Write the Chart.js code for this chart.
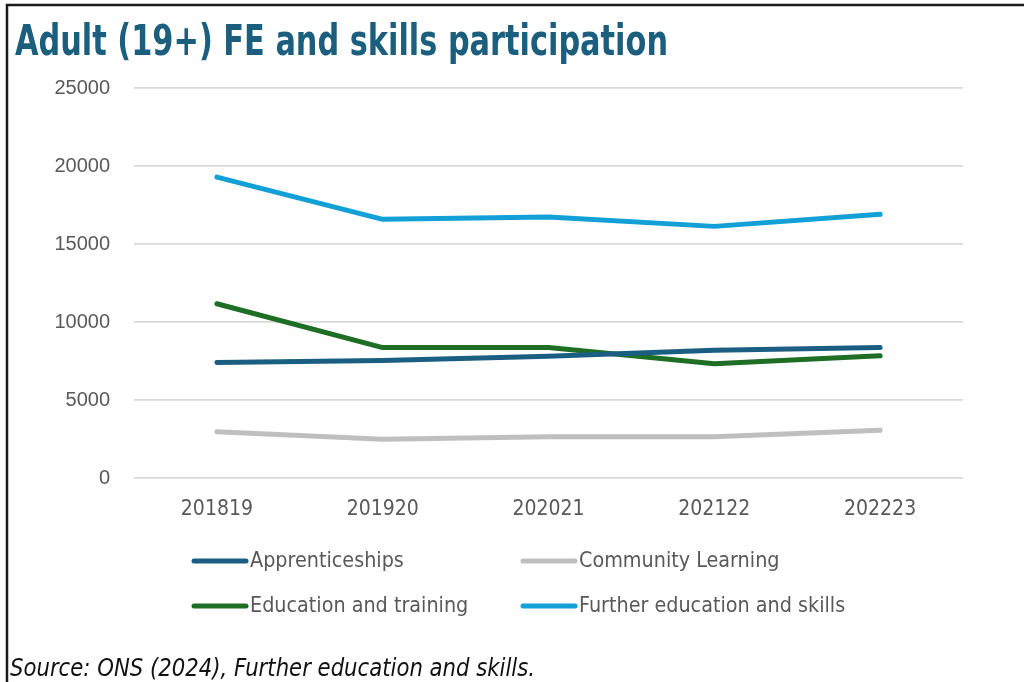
<!DOCTYPE html>
<html>
<head>
<meta charset="utf-8">
<script src="https://cdn.jsdelivr.net/npm/chart.js@4.4.1/dist/chart.umd.min.js"></script>
<style>
  html, body { margin: 0; padding: 0; background: #ffffff; }
  #wrap { position: relative; width: 1024px; height: 682px; }
  canvas { display: block; }
</style>
</head>
<body>
<div id="wrap"><canvas id="c" width="1024" height="682"></canvas></div>
<script>
// Academic years (yyyy/yy written without the slash)
const years = ['201819', '201920', '202021', '202122', '202223'];

// Adult (19+) participation by provision type
const apprenticeships = [7400, 7530, 7810, 8190, 8360];
const communityLearning = [2970, 2480, 2650, 2650, 3060];
const educationTraining = [11170, 8360, 8360, 7320, 7830];
const furtherEducation = [19290, 16580, 16730, 16130, 16900];

const yTicks = [0, 5000, 10000, 15000, 20000, 25000];

const titleText = 'Adult (19+) FE and skills participation';
const sourceText = 'Source: ONS (2024), Further education and skills.';

const NARROW = '"DejaVu Sans Condensed", "Liberation Sans", sans-serif';
const GREY = '#595959';

// Draws text squeezed horizontally so it spans the given width
function fitText(ctx, text, x, y, width) {
  const w = ctx.measureText(text).width;
  const k = Math.min(1, width / w);
  ctx.save();
  ctx.translate(x, y);
  ctx.scale(k, 1);
  ctx.fillText(text, 0, 0);
  ctx.restore();
}

// Title, frame, source note and a two-column legend drawn on the canvas
const decorations = {
  id: 'decorations',
  afterDraw(chart) {
    const ctx = chart.ctx;
    ctx.save();
    // frame
    ctx.strokeStyle = '#1a1a1a';
    ctx.lineWidth = 2.5;
    ctx.beginPath();
    ctx.moveTo(7, 682);
    ctx.lineTo(7, 5);
    ctx.lineTo(1024, 5);
    ctx.stroke();

    // title
    ctx.fillStyle = '#1B5E7E';
    ctx.font = 'bold 43px ' + NARROW;
    ctx.textBaseline = 'alphabetic';
    ctx.textAlign = 'left';
    fitText(ctx, titleText, 15, 55, 653);

    // legend
    const cols = [192, 521];
    const rows = [561, 606];
    ctx.font = '22px ' + NARROW;
    ctx.textBaseline = 'middle';
    chart.data.datasets.forEach((ds, i) => {
      const x = cols[i % 2];
      const y = rows[Math.floor(i / 2)];
      ctx.strokeStyle = ds.borderColor;
      ctx.lineWidth = 5;
      ctx.lineCap = 'round';
      ctx.beginPath();
      ctx.moveTo(x + 2, y);
      ctx.lineTo(x + 54, y);
      ctx.stroke();
      ctx.fillStyle = GREY;
      const w = ctx.measureText(ds.label).width;
      fitText(ctx, ds.label, x + 58, y, w * 0.97);
    });

    // source note
    ctx.fillStyle = '#111111';
    ctx.font = 'italic 24px ' + NARROW;
    ctx.textBaseline = 'alphabetic';
    fitText(ctx, sourceText, 10, 676, 525);
    ctx.restore();
  }
};

const mk = (label, data, color) => ({
  label, data,
  borderColor: color,
  backgroundColor: color,
  borderWidth: 5,
  borderCapStyle: 'round',
  borderJoinStyle: 'round',
  pointRadius: 0,
  pointHoverRadius: 0,
  tension: 0,
  fill: false
});

new Chart(document.getElementById('c'), {
  type: 'line',
  data: {
    labels: years,
    datasets: [
      mk('Apprenticeships', apprenticeships, '#1A5E82'),
      mk('Community Learning', communityLearning, '#BFBFBF'),
      mk('Education and training', educationTraining, '#1E6E25'),
      mk('Further education and skills', furtherEducation, '#12A0D7')
    ]
  },
  options: {
    responsive: false,
    animation: false,
    devicePixelRatio: 1,
    layout: { padding: { left: 0, top: 88, right: 61, bottom: 154 } },
    plugins: {
      legend: { display: false },
      title: { display: false },
      tooltip: { enabled: false }
    },
    scales: {
      x: {
        offset: true,
        grid: { display: false, drawTicks: false },
        border: { display: false },
        ticks: {
          color: GREY,
          font: { family: NARROW, size: 21 },
          padding: 19,
          maxRotation: 0
        },
        afterFit(scale) { scale.height = 50; }
      },
      y: {
        min: 0,
        max: 25000,
        afterBuildTicks(scale) { scale.ticks = yTicks.map(v => ({ value: v })); },
        grid: { color: '#D9D9D9', lineWidth: 1.75, drawTicks: false },
        border: { display: false },
        ticks: {
          color: GREY,
          font: { family: '"Liberation Sans", Arial, sans-serif', size: 20 },
          padding: 24,
          callback: v => String(v)
        },
        afterFit(scale) { scale.width = 134; }
      }
    }
  },
  plugins: [decorations]
});
</script>
</body>
</html>
